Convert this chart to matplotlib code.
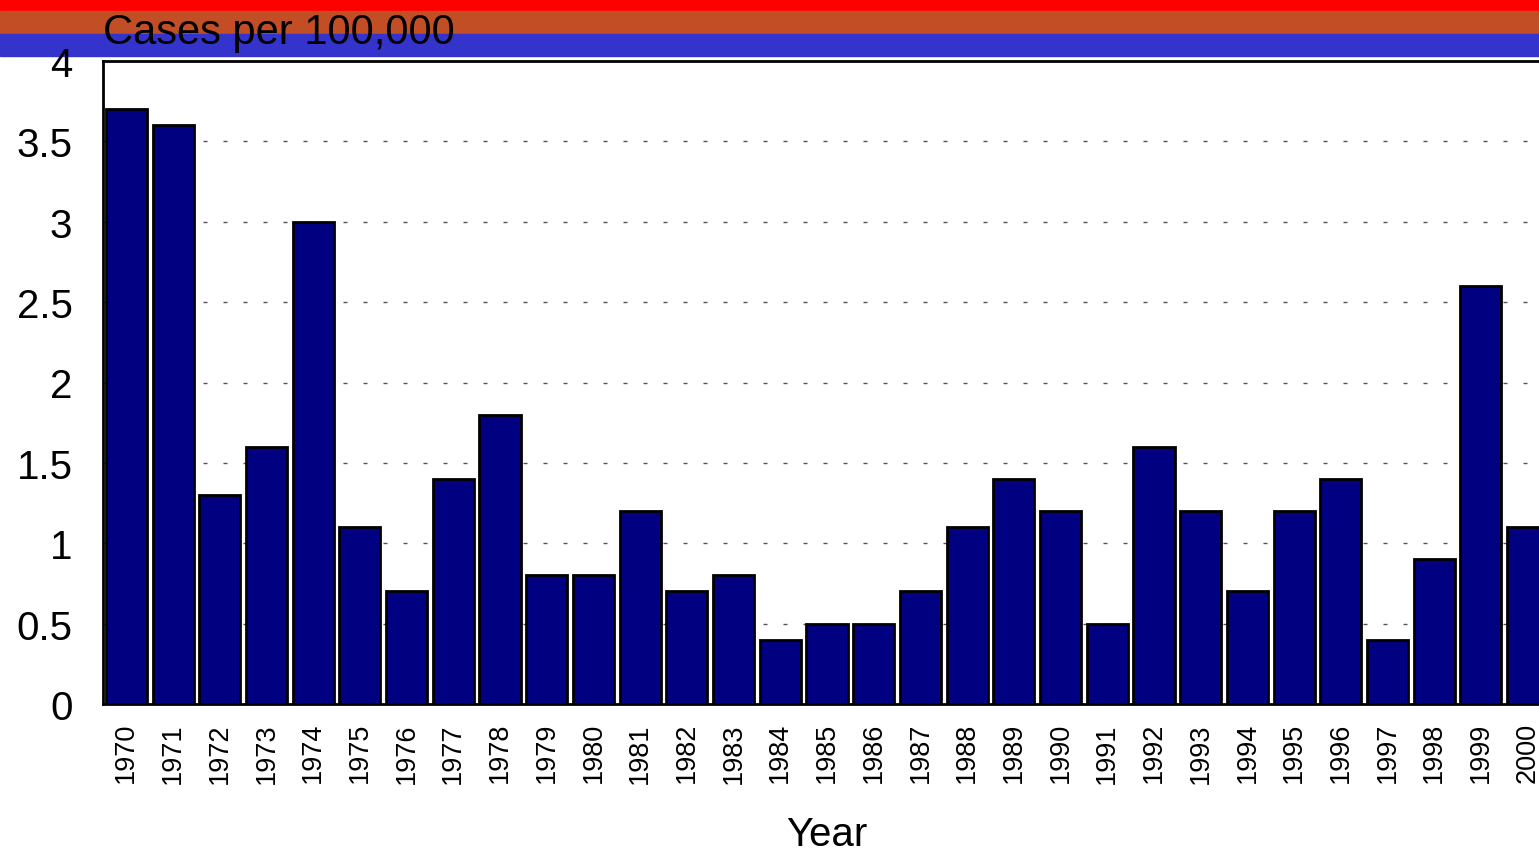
import matplotlib
matplotlib.use("Agg")
import matplotlib.pyplot as plt
from matplotlib.patches import Rectangle

plt.rcParams["font.family"] = ["Liberation Sans", "DejaVu Sans"]

years = [str(y) for y in range(1970, 2001)]
rates = [3.7, 3.6, 1.3, 1.6, 3.0, 1.1, 0.7, 1.4, 1.8, 0.8,
         0.8, 1.2, 0.7, 0.8, 0.4, 0.5, 0.5, 0.7, 1.1, 1.4,
         1.2, 0.5, 1.6, 1.2, 0.7, 1.2, 1.4, 0.4, 0.9, 2.6,
         1.1]
yticks = [0, 0.5, 1, 1.5, 2, 2.5, 3, 3.5, 4]
ytick_labels = ["0", "0.5", "1", "1.5", "2", "2.5", "3", "3.5", "4"]

W, H = 1539, 853
fig = plt.figure(figsize=(W / 100, H / 100), dpi=100)

# colour bands along the top (behind everything)
for y0, y1, col in [(0, 12, "#ff0000"), (12, 35, "#c24e25"), (35, 57, "#3434cc")]:
    fig.patches.append(Rectangle((0, 1 - y1 / H), 1, (y1 - y0) / H,
                                 transform=fig.transFigure, color=col, zorder=-5))

ax = fig.add_axes([103 / W, 1 - 705 / H, (1551 - 103) / W, (705 - 62) / H])
ax.set_zorder(1)
ax.patch.set_alpha(0)
x = list(range(len(years)))
ax.bar(x, rates, width=0.88, color="#000080", edgecolor="black", linewidth=2, zorder=3)
ax.set_xlim(-0.5, len(years) - 0.5)
ax.set_ylim(0, 4)
ax.set_yticks(yticks)
ax.set_yticklabels(ytick_labels, fontsize=29)
ax.set_xticks(x)
ax.set_xticklabels(years, rotation=90, fontsize=19.5)
ax.tick_params(axis="y", length=0, pad=22)
ax.tick_params(axis="x", length=0, pad=13)
for v in yticks[1:-1]:
    ax.axhline(v, color="#555555", linewidth=1, dashes=(2.9, 11.5), zorder=1)
for s in ax.spines.values():
    s.set_linewidth(2)
ax.set_xlabel("Year", fontsize=29, labelpad=23)
fig.text(103 / W, 1 - 44 / H, "Cases per 100,000", fontsize=30, ha="left", va="baseline")

fig.savefig("out.png", dpi=100, facecolor="white")
